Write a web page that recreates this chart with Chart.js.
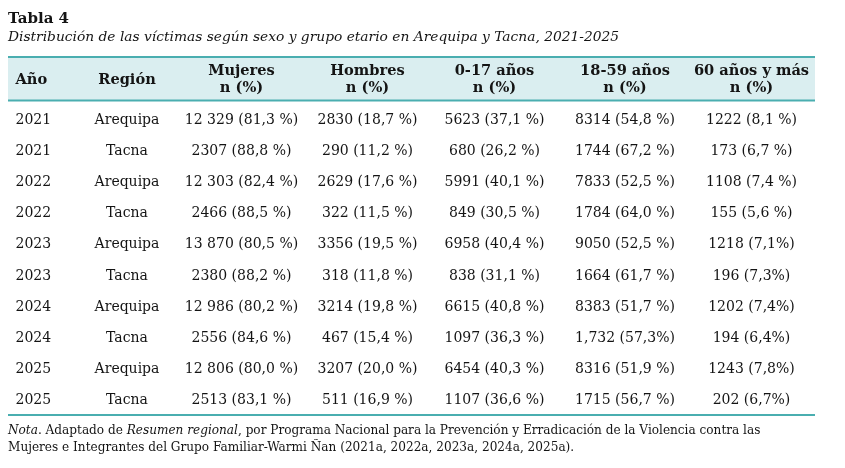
<!DOCTYPE html>
<html><head><meta charset="utf-8">
<script src="https://cdn.jsdelivr.net/npm/chart.js@4"></script>
<style>html,body{margin:0;padding:0;background:#fff}#c{display:block}</style>
</head><body>
<canvas id="c" width="845" height="468"></canvas>
<script>
// ---- data ----
const headers = [["Año"],["Región"],["Mujeres","n (%)"],["Hombres","n (%)"],["0-17 años","n (%)"],["18-59 años","n (%)"],["60 años y más","n (%)"]];
const years   = ["2021","2021","2022","2022","2023","2023","2024","2024","2025","2025"];
const regions = ["Arequipa","Tacna","Arequipa","Tacna","Arequipa","Tacna","Arequipa","Tacna","Arequipa","Tacna"];
const mujeres = ["12 329 (81,3 %)","2307 (88,8 %)","12 303 (82,4 %)","2466 (88,5 %)","13 870 (80,5 %)","2380 (88,2 %)","12 986 (80,2 %)","2556 (84,6 %)","12 806 (80,0 %)","2513 (83,1 %)"];
const hombres = ["2830 (18,7 %)","290 (11,2 %)","2629 (17,6 %)","322 (11,5 %)","3356 (19,5 %)","318 (11,8 %)","3214 (19,8 %)","467 (15,4 %)","3207 (20,0 %)","511 (16,9 %)"];
const edad0_17 = ["5623 (37,1 %)","680 (26,2 %)","5991 (40,1 %)","849 (30,5 %)","6958 (40,4 %)","838 (31,1 %)","6615 (40,8 %)","1097 (36,3 %)","6454 (40,3 %)","1107 (36,6 %)"];
const edad18_59 = ["8314 (54,8 %)","1744 (67,2 %)","7833 (52,5 %)","1784 (64,0 %)","9050 (52,5 %)","1664 (61,7 %)","8383 (51,7 %)","1,732 (57,3%)","8316 (51,9 %)","1715 (56,7 %)"];
const edad60 = ["1222 (8,1 %)","173 (6,7 %)","1108 (7,4 %)","155 (5,6 %)","1218 (7,1%)","196 (7,3%)","1202 (7,4%)","194 (6,4%)","1243 (7,8%)","202 (6,7%)"];
const columns = [years, regions, mujeres, hombres, edad0_17, edad18_59, edad60];
const title = "Tabla 4";
const subtitle = "Distribución de las víctimas según sexo y grupo etario en Arequipa y Tacna, 2021-2025";

// ---- layout / style (not data) ----
const colCenters = [7.5, 119, 233.5, 359.5, 486.5, 617, 743.5]; // table-width units; first col is its left edge
const colAlign = ['left','center','center','center','center','center','center'];
const SERIF = '"DejaVu Serif", serif';
const teal = '#4aaeb0', band = '#daeef0', ink = '#141414';

const datasets = columns.map((col, c) => ({
  label: headers[c].join(' '),
  data: col.map((txt, r) => ({x: colCenters[c], y: r, txt})),
  pointRadius: 0, showLine: false
}));

const tablePlugin = {
  id: 'table',
  beforeDatasetsDraw(chart) {
    const {ctx, chartArea: a, scales: {x, y}} = chart;
    ctx.save();
    const top = y.getPixelForValue(-2), hb = y.getPixelForValue(-0.6), bot = y.getPixelForValue(9.5);
    ctx.fillStyle = band;
    ctx.fillRect(a.left, top, a.right - a.left, hb - top);
    ctx.strokeStyle = teal; ctx.lineWidth = 2;
    [top, hb, bot].forEach(py => { ctx.beginPath(); ctx.moveTo(a.left, py); ctx.lineTo(a.right, py); ctx.stroke(); });
    // header
    ctx.fillStyle = ink; ctx.textBaseline = 'middle';
    ctx.font = 'bold 14.6px ' + SERIF;
    headers.forEach((h, c) => {
      const px = x.getPixelForValue(colCenters[c]);
      ctx.textAlign = colAlign[c];
      if (h.length === 1) ctx.fillText(h[0], px, y.getPixelForValue(-1.27));
      else { ctx.fillText(h[0], px, y.getPixelForValue(-1.53)); ctx.fillText(h[1], px, y.getPixelForValue(-1.0)); }
    });
    // cells
    ctx.font = '14px ' + SERIF;
    chart.data.datasets.forEach((ds, c) => {
      const meta = chart.getDatasetMeta(c);
      ctx.textAlign = colAlign[c];
      meta.data.forEach((pt, r) => {
        ctx.fillText(ds.data[r].txt, pt.x, pt.y + 1);
      });
    });
    ctx.restore();
  },
  afterDraw(chart) {
    const ctx = chart.ctx;
    ctx.save();
    ctx.fillStyle = ink; ctx.textBaseline = 'alphabetic'; ctx.textAlign = 'left';
    ctx.font = 'bold 15px ' + SERIF;
    ctx.fillText(title, 8, 23);
    ctx.font = 'italic 13.8px ' + SERIF;
    ctx.fillText(subtitle, 8, 41);
    // note
    const runs1 = [["Nota", 'italic'], [". Adaptado de ", ''], ["Resumen regional", 'italic'], [", por Programa Nacional para la Prevención y Erradicación de la Violencia contra las", '']];
    const runs2 = [["Mujeres e Integrantes del Grupo Familiar-Warmi Ñan (2021a, 2022a, 2023a, 2024a, 2025a).", '']];
    const drawRuns = (runs, yy) => {
      let xx = 8;
      runs.forEach(([t, st]) => { ctx.font = (st ? st + ' ' : '') + '12.1px ' + SERIF; ctx.fillText(t, xx, yy); xx += ctx.measureText(t).width; });
    };
    drawRuns(runs1, 434);
    drawRuns(runs2, 451);
    ctx.restore();
  }
};

new Chart(document.getElementById('c'), {
  type: 'scatter',
  data: { datasets },
  options: {
    responsive: false, animation: false,
    layout: { padding: { left: 8, right: 30, top: 57, bottom: 53 } },
    plugins: { legend: { display: false }, tooltip: { enabled: false }, title: { display: false } },
    scales: {
      x: { type: 'linear', min: 0, max: 807, display: false },
      y: { type: 'linear', min: -2, max: 9.5, reverse: true, display: false }
    }
  },
  plugins: [tablePlugin]
});
</script>
</body></html>
